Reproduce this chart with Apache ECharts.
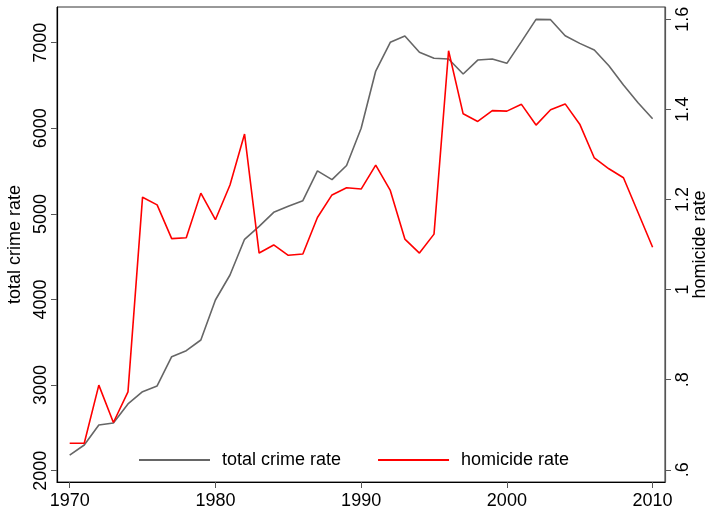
<!DOCTYPE html>
<html>
<head>
<meta charset="utf-8">
<script src="https://cdn.jsdelivr.net/npm/echarts@6/dist/echarts.min.js"></script>
<style>
    html, body { margin: 0; padding: 0; background: #fff; }
    #main { width: 713px; height: 515px; }
</style>
</head>
<body>
<div id="main"></div>
<script>
// data
var years = [1970, 1971, 1972, 1973, 1974, 1975, 1976, 1977, 1978, 1979,
    1980, 1981, 1982, 1983, 1984, 1985, 1986, 1987, 1988, 1989,
    1990, 1991, 1992, 1993, 1994, 1995, 1996, 1997, 1998, 1999,
    2000, 2001, 2002, 2003, 2004, 2005, 2006, 2007, 2008, 2009, 2010]

var crimeRate = [2183, 2300, 2534, 2557, 2780, 2923, 2990, 3332, 3402, 3527,
    3994, 4286, 4703, 4855, 5018, 5089, 5155, 5502, 5400, 5565,
    6000, 6669, 7005, 7078, 6888, 6818, 6810, 6634, 6797, 6810,
    6759, 7012, 7273, 7269, 7082, 6992, 6915, 6731, 6506, 6299, 6112]

var homicideRate = [0.659, 0.659, 0.788, 0.705, 0.773, 1.205, 1.188, 1.113, 1.115, 1.214,
    1.155, 1.232, 1.345, 1.081, 1.099, 1.076, 1.079, 1.160, 1.210, 1.226,
    1.223, 1.276, 1.220, 1.112, 1.081, 1.123, 1.530, 1.390, 1.373, 1.397,
    1.396, 1.411, 1.365, 1.399, 1.412, 1.367, 1.292, 1.268, 1.248, 1.171, 1.094]

var yearTicks = [1970, 1980, 1990, 2000, 2010]
var crimeTicks = [2000, 3000, 4000, 5000, 6000, 7000]
var homicideTicks = [0.6, 0.8, 1, 1.2, 1.4, 1.6]

var element = document.querySelector('#main')
var chart = echarts.init(element)

var font = 'Liberation Sans, Arial, Helvetica, sans-serif'

var pairs = (ys) => {
    let result = []
    for (var i = 0; i < years.length; i++) {
        result.push([years[i], ys[i]])
    }
    return result
}

var plainLabel = (v) => String(Math.round(v))

var homicideLabel = (v) => {
    let s = String(Math.round(v * 10) / 10)
    if (s.indexOf('0.') === 0) {
        s = s.slice(1)
    }
    return s
}

chart.setOption({
    animation: false,
    textStyle: { fontFamily: font },
    grid: {
        left: 57,
        right: 48,
        top: 7,
        bottom: 33,
        outerBoundsMode: 'none',
        containLabel: false,
        show: true,
        borderColor: '#333',
        borderWidth: 1
    },
    legend: {
        left: 139,
        top: 451,
        padding: 0,
        itemWidth: 71,
        itemHeight: 2,
        itemGap: 37,
        icon: 'rect',
        textStyle: { fontSize: 18, color: '#000', fontFamily: font, padding: [0, 0, 0, 7] },
        data: ['total crime rate', 'homicide rate']
    },
    xAxis: {
        type: 'value',
        min: 1969.13,
        max: 2010.85,
        splitLine: { show: false },
        axisLine: { lineStyle: { color: '#000', width: 1.2 } },
        axisTick: { customValues: yearTicks, length: 6, lineStyle: { color: '#555' } },
        axisLabel: { customValues: yearTicks, fontSize: 18, color: '#000', margin: 10, formatter: plainLabel }
    },
    yAxis: [
        {
            type: 'value',
            min: 1868,
            max: 7417,
            name: 'total crime rate',
            nameLocation: 'middle',
            nameRotate: 90,
            nameGap: 31,
            nameTextStyle: { fontSize: 18, color: '#000' },
            splitLine: { show: false },
            axisLine: { show: true, lineStyle: { color: '#000', width: 1.2 } },
            axisTick: { show: true, customValues: crimeTicks, length: 6, lineStyle: { color: '#555' } },
            axisLabel: { customValues: crimeTicks, rotate: 90, fontSize: 18, color: '#000', margin: 7, formatter: plainLabel }
        },
        {
            type: 'value',
            min: 0.573,
            max: 1.627,
            position: 'right',
            name: 'homicide rate',
            nameLocation: 'middle',
            nameRotate: 90,
            nameGap: 26,
            nameMoveOverlap: false,
            nameTextStyle: { fontSize: 18, color: '#000' },
            splitLine: { show: false },
            axisLine: { show: true, lineStyle: { color: '#555', width: 1.2 } },
            axisTick: { show: true, customValues: homicideTicks, length: 6, lineStyle: { color: '#555' } },
            axisLabel: {
                customValues: homicideTicks,
                rotate: 90,
                fontSize: 18,
                color: '#000',
                margin: 9,
                formatter: homicideLabel
            }
        }
    ],
    series: [
        {
            name: 'total crime rate',
            type: 'line',
            yAxisIndex: 0,
            symbol: 'none',
            color: '#666',
            lineStyle: { color: '#666', width: 1.6 },
            data: pairs(crimeRate)
        },
        {
            name: 'homicide rate',
            type: 'line',
            yAxisIndex: 1,
            symbol: 'none',
            color: '#ff0000',
            lineStyle: { color: '#ff0000', width: 1.6 },
            data: pairs(homicideRate)
        }
    ]
})
</script>
</body>
</html>
